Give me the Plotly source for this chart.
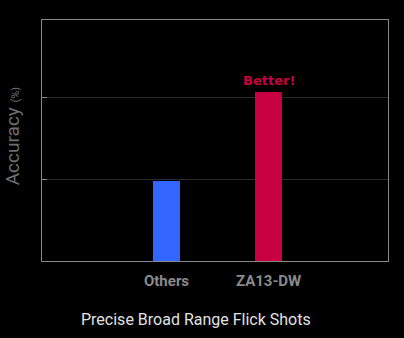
import plotly.graph_objects as go

categories = ["Others", "ZA13-DW"]
accuracy = [0.98, 2.06]
bar_colors = ["#3366ff", "#c80041"]
ytick_vals = [1, 2]

fig = go.Figure()
fig.add_trace(go.Bar(
    x=[0, 1], y=accuracy, width=0.265,
    marker=dict(color=bar_colors, line=dict(width=0)),
    hoverinfo="skip",
))

fig.add_annotation(
    x=1, y=accuracy[1], text="<b>Better!</b>", showarrow=False,
    yanchor="bottom", yshift=2,
    font=dict(family="DejaVu Sans", size=13, color="#c80041"),
)
# x-axis caption
fig.add_annotation(
    xref="paper", yref="paper", x=0.4465, y=-0.243,
    text="Precise Broad Range Flick Shots", showarrow=False,
    xanchor="center", yanchor="middle",
    font=dict(family="Roboto", size=16, color="#e0e0e0"),
)
# y-axis caption
fig.add_annotation(
    xref="paper", yref="paper", x=-0.085, y=0.52,
    text="Accuracy <span style='font-size:11px'>(%)</span>", showarrow=False,
    textangle=-90, xanchor="center", yanchor="middle",
    font=dict(family="Roboto", size=19, color="#6e6e6e"),
)

fig.update_layout(
    width=404, height=338,
    paper_bgcolor="#000000", plot_bgcolor="#000000",
    margin=dict(l=42, r=16, t=20, b=77),
    showlegend=False,
    bargap=0,
)
fig.update_xaxes(
    range=[-1.22, 2.17],
    tickmode="array", tickvals=[0, 1], ticktext=categories,
    tickfont=dict(family="Roboto", size=15, color="#8a8a8a", weight="bold"),
    ticklabelstandoff=6,
    showgrid=False, zeroline=False,
    showline=True, mirror=True, linecolor="#888888", linewidth=1,
    ticks="",
)
fig.update_yaxes(
    range=[0, 2.94],
    tickmode="array", tickvals=ytick_vals, showticklabels=False,
    ticks="inside", ticklen=5, tickcolor="#888888",
    showgrid=True, gridcolor="#2a2a2a", gridwidth=1,
    zeroline=False,
    showline=True, mirror=True, linecolor="#888888", linewidth=1,
)

fig.write_html("out.html")
